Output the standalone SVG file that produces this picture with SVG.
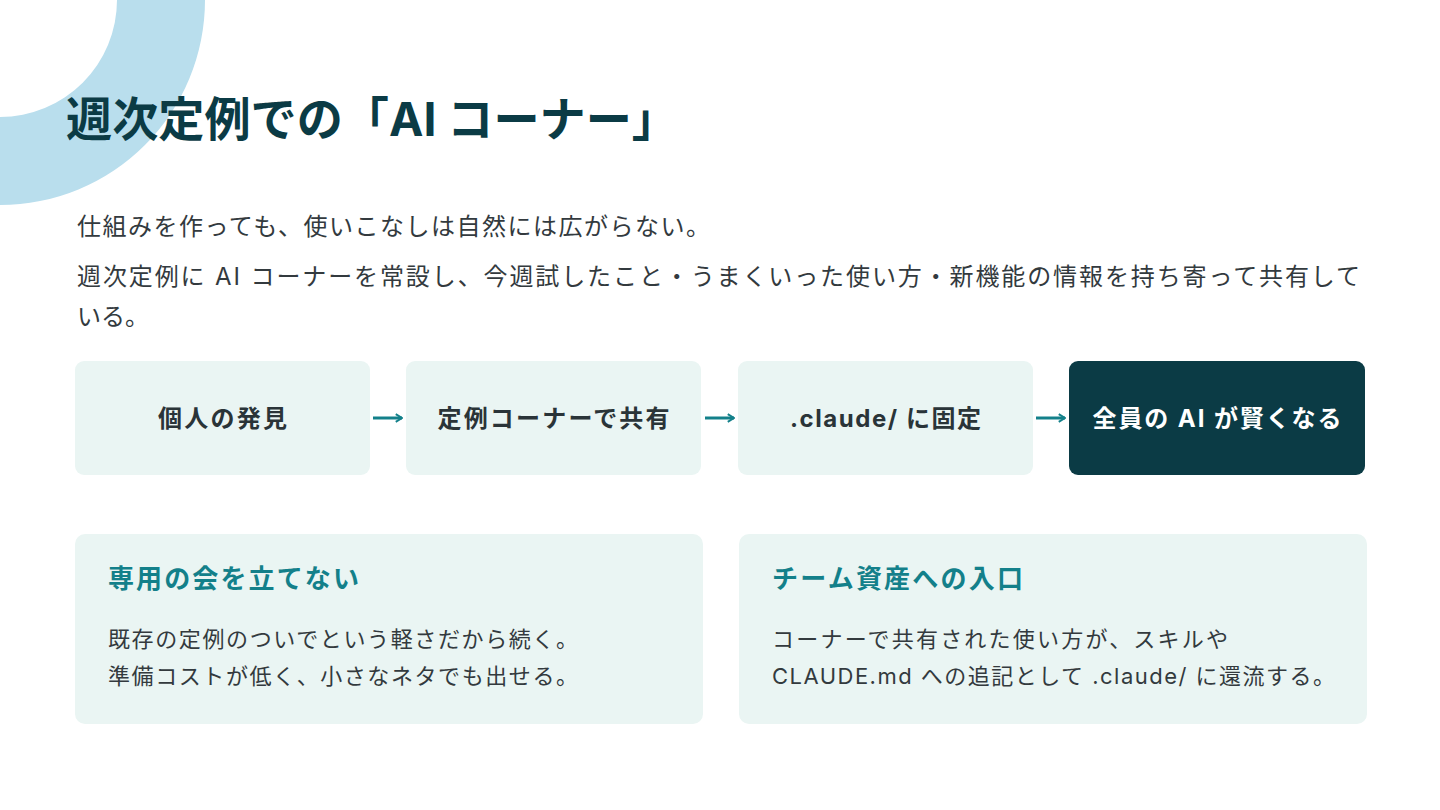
<svg xmlns="http://www.w3.org/2000/svg" width="1440" height="810" viewBox="0 0 1440 810">
<defs>
<style>
.t{font-family:"Inter","Noto Sans CJK JP",sans-serif;}
.title{font-size:47px;font-weight:700;fill:#0b3b45;}
.body{font-size:24px;fill:#333a3e;}
.box{fill:#eaf5f3;}
.dark{fill:#0b3b45;}
.lbl{font-size:24px;font-weight:700;fill:#2a3438;text-anchor:middle;}
.lblw{font-size:24px;font-weight:700;fill:#ffffff;text-anchor:middle;}
.ch{font-size:26px;font-weight:700;fill:#13808a;}
.cb{font-size:22px;fill:#333a3e;}
.arr{stroke:#13808a;stroke-width:3;fill:none;}
</style>
<marker id="ah" viewBox="0 0 10 10" refX="8.5" refY="5" markerWidth="3.2" markerHeight="3.2" orient="auto" markerUnits="strokeWidth">
<path d="M2,1 L8.5,5 L2,9" fill="none" stroke="#13808a" stroke-width="2"/>
</marker>
</defs>
<rect width="1440" height="810" fill="#ffffff"/>
<path d="M0,0 L205,0 A205,205 0 0 1 0,205 L0,117 A117,117 0 0 0 117,0 Z" fill="#b9deed"/>
<text class="t title" x="66" y="136" textLength="612" lengthAdjust="spacingAndGlyphs">週次定例での「AI コーナー」</text>
<text class="t body" x="77" y="235" textLength="633" lengthAdjust="spacing">仕組みを作っても、使いこなしは自然には広がらない。</text>
<text class="t body" x="77" y="285" textLength="1283" lengthAdjust="spacing">週次定例に AI コーナーを常設し、今週試したこと・うまくいった使い方・新機能の情報を持ち寄って共有して</text>
<text class="t body" x="77" y="325">いる。</text>
<g id="node-discovery">
<rect class="box" x="75" y="361" width="295" height="114" rx="9"/>
<text class="t lbl" x="222.5" y="427" textLength="129" lengthAdjust="spacing">個人の発見</text>
</g>
<g id="node-share">
<rect class="box" x="406" y="361" width="295" height="114" rx="9"/>
<text class="t lbl" x="553.5" y="427" textLength="232" lengthAdjust="spacing">定例コーナーで共有</text>
</g>
<g id="node-fix">
<rect class="box" x="738" y="361" width="295" height="114" rx="9"/>
<text class="t lbl" x="885.5" y="427" textLength="191" lengthAdjust="spacing">.claude/ に固定</text>
</g>
<g id="node-smart">
<rect class="dark" x="1069" y="361" width="296" height="114" rx="9"/>
<text class="t lblw" x="1217" y="427" textLength="249" lengthAdjust="spacing">全員の AI が賢くなる</text>
</g>
<g id="connectors">
<line class="arr" x1="373" y1="418" x2="402" y2="418" marker-end="url(#ah)"/>
<line class="arr" x1="705" y1="418" x2="734" y2="418" marker-end="url(#ah)"/>
<line class="arr" x1="1036" y1="418" x2="1065" y2="418" marker-end="url(#ah)"/>
</g>
<g id="card-no-meeting">
<rect class="box" x="75" y="534" width="628" height="190" rx="10"/>
<text class="t ch" x="108" y="588" textLength="251" lengthAdjust="spacing">専用の会を立てない</text>
<text class="t cb" x="108" y="647" textLength="470" lengthAdjust="spacing">既存の定例のついでという軽さだから続く。</text>
<text class="t cb" x="108" y="684" textLength="470" lengthAdjust="spacing">準備コストが低く、小さなネタでも出せる。</text>
</g>
<g id="card-entrance">
<rect class="box" x="739" y="534" width="628" height="190" rx="10"/>
<text class="t ch" x="772" y="588" textLength="251" lengthAdjust="spacing">チーム資産への入口</text>
<text class="t cb" x="772" y="647" textLength="456" lengthAdjust="spacing">コーナーで共有された使い方が、スキルや</text>
<text class="t cb" x="772" y="684" textLength="563" lengthAdjust="spacing">CLAUDE.md への追記として .claude/ に還流する。</text>
</g>
</svg>
